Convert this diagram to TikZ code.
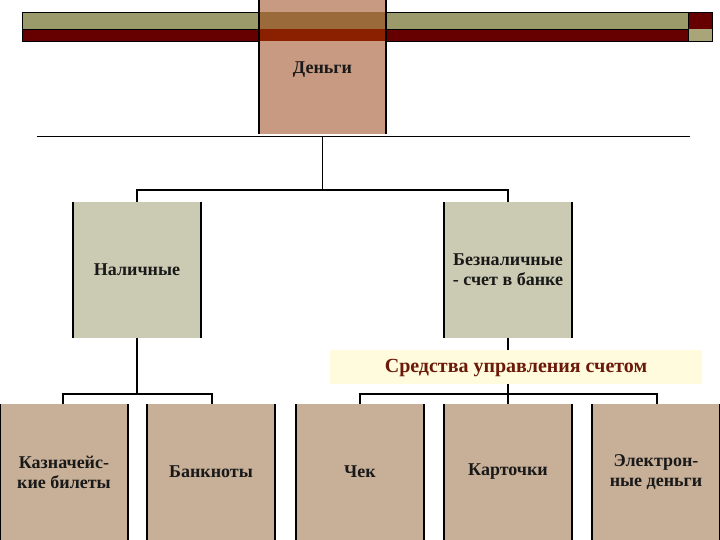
\documentclass[tikz,border=0pt]{standalone}
\usepackage{fontspec}
\setmainfont{Liberation Serif}
\begin{document}
\begin{tikzpicture}[x=1pt,y=-1pt,
  conn/.style={line width=1.2pt,black},
  side/.style={line width=2.6pt,black},
  txt/.style={font=\bfseries\fontsize{18}{20}\selectfont,align=center,text=black!90}]
\useasboundingbox (0,0) rectangle (720,540);
% top bars
\fill[fill={rgb,255:red,154;green,154;blue,106}] (22,12) rectangle (688,29);
\fill[fill={rgb,255:red,102;green,0;blue,0}] (22,29) rectangle (688,41);
\draw[line width=0.8pt] (22,12) rectangle (688,41) (22,29)--(688,29);
\fill[fill={rgb,255:red,102;green,0;blue,0}] (688,12) rectangle (712,29);
\fill[fill={rgb,255:red,170;green,165;blue,120}] (688,29) rectangle (712,41);
\draw[line width=0.8pt] (688,12) rectangle (712,41);
% root
\fill[fill={rgb,255:red,201;green,154;blue,130}] (259,0) rectangle (386,134);
\fill[fill={rgb,255:red,154;green,106;blue,58}] (259,12) rectangle (386,29);
\fill[fill={rgb,255:red,139;green,32;blue,0}] (259,29) rectangle (386,41);
\draw[side] (259,0)--(259,134) (386,0)--(386,134);
\node[txt] (root) at (322.5,70) {Деньги};
\coordinate (rootb) at (322.5,134);
\draw[line width=1pt] (37,137)--(690,137);
% level 2
\foreach \n/\x/\t in {cash/73/Наличные, noncash/444/{Безналичные\\- счет в банке}}{
  \fill[fill={rgb,255:red,203;green,203;blue,179}] (\x,202) rectangle (\x+128,338);
  \draw[side] (\x,202)--(\x,338) (\x+128,202)--(\x+128,338);
  \node[txt] (\n) at (\x+64,270) {\t};
}
\draw[conn] (322.5,137)--(322.5,190)--(137,190)--(137,202);
\draw[conn] (322.5,190)--(508,190)--(508,202);
% band
\fill[fill={rgb,255:red,255;green,251;blue,220}] (330,350) rectangle (702,384);
\node[font=\bfseries\fontsize{20}{22}\selectfont,text={rgb,255:red,107;green,26;blue,10}] (band) at (516,368) {Средства управления счетом};
\draw[conn] (508,338)--(508,350);
% level 3
\foreach \n/\x/\t in {k/0/{Казначейс-\\кие билеты}, b/147/Банкноты, c/296/Чек, d/444/Карточки, e/592/{Электрон-\\ные деньги}}{
  \fill[fill={rgb,255:red,200;green,176;blue,152}] (\x,404) rectangle (\x+128,540);
  \draw[side] (\x,404)--(\x,540) (\x+128,404)--(\x+128,540);
  \node[txt] (\n) at (\x+64,472) {\t};
}
\draw[conn] (137,338)--(137,394)--(63,394)--(63,404);
\draw[conn] (137,394)--(212,394)--(212,404);
\draw[conn] (508,384)--(508,404);
\draw[conn] (360,404)--(360,394)--(657,394)--(657,404);
\end{tikzpicture}
\end{document}
